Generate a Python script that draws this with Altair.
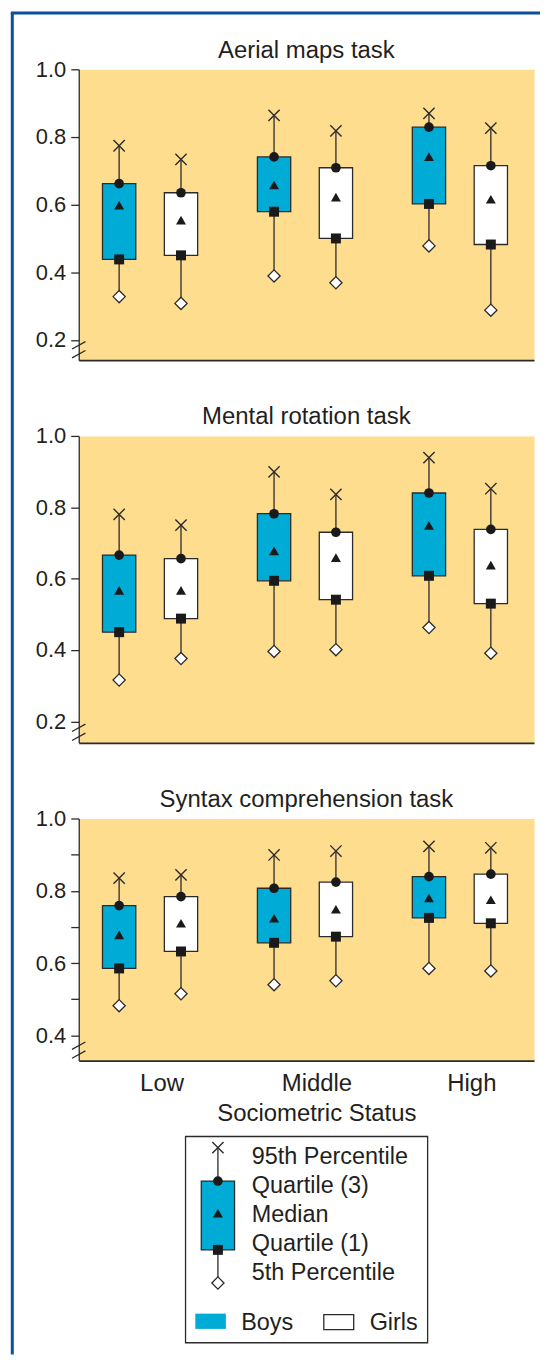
import altair as alt
import pandas as pd

FONT = "Liberation Sans"
INK = "#231f20"
LINE = "#2b2b2b"
BLUE = "#00abd5"
YELLOW = "#fedd8e"
FRAME = "#0b4f9e"

statuses = ["Low", "Middle", "High"]
sexes = ["Boys", "Girls"]
tasks = ["Aerial maps task", "Mental rotation task", "Syntax comprehension task"]

# order of each list: Low-Boys, Low-Girls, Middle-Boys, Middle-Girls, High-Boys, High-Girls
aerial_p95 = [0.774, 0.734, 0.864, 0.818, 0.870, 0.826]
aerial_q3 = [0.662, 0.635, 0.741, 0.709, 0.829, 0.715]
aerial_med = [0.598, 0.554, 0.658, 0.622, 0.742, 0.616]
aerial_q1 = [0.438, 0.450, 0.579, 0.500, 0.602, 0.482]
aerial_p5 = [0.328, 0.308, 0.389, 0.369, 0.478, 0.288]

mental_p95 = [0.780, 0.750, 0.899, 0.836, 0.939, 0.852]
mental_q3 = [0.666, 0.656, 0.782, 0.730, 0.840, 0.738]
mental_med = [0.567, 0.567, 0.678, 0.659, 0.749, 0.638]
mental_q1 = [0.450, 0.488, 0.594, 0.541, 0.608, 0.530]
mental_p5 = [0.316, 0.376, 0.396, 0.401, 0.463, 0.391]

syntax_p95 = [0.835, 0.844, 0.899, 0.910, 0.923, 0.919]
syntax_q3 = [0.759, 0.784, 0.807, 0.824, 0.839, 0.846]
syntax_med = [0.678, 0.710, 0.724, 0.749, 0.780, 0.775]
syntax_q1 = [0.585, 0.632, 0.656, 0.673, 0.725, 0.710]
syntax_p5 = [0.482, 0.515, 0.540, 0.551, 0.585, 0.578]

y_domains = [[0.14, 1.0], [0.14, 1.0], [0.33, 1.0]]
y_ticks = [
    [0.2, 0.3, 0.4, 0.5, 0.6, 0.7, 0.8, 0.9, 1.0],
    [0.2, 0.3, 0.4, 0.5, 0.6, 0.7, 0.8, 0.9, 1.0],
    [0.4, 0.5, 0.6, 0.7, 0.8, 0.9, 1.0],
]

key_labels = ["95th Percentile", "Quartile (3)", "Median", "Quartile (1)", "5th Percentile"]
key_glyph = {"p95": -0.33, "q3": 0.82, "med": 1.93, "q1": 3.19, "p5": 4.33}
swatch_labels = ["Boys", "Girls"]

# layout
PANEL_W = 457
PANEL_H = [292, 308, 243]
SPACING = 76
LEG_W, LEG_H = 243, 207

X_PATH = "M-1,-1L1,1M-1,1L1,-1"
BREAK_PATH = "M-1,0.55L1,-0.55"


def make_df(p5, q1, med, q3, p95):
    rows = []
    i = 0
    for st in statuses:
        for sx in sexes:
            rows.append(dict(status=st, sex=sx, p5=p5[i], q1=q1[i], med=med[i], q3=q3[i], p95=p95[i]))
            i += 1
    return pd.DataFrame(rows)


dfs = [
    make_df(aerial_p5, aerial_q1, aerial_med, aerial_q3, aerial_p95),
    make_df(mental_p5, mental_q1, mental_med, mental_q3, mental_p95),
    make_df(syntax_p5, syntax_q1, syntax_med, syntax_q3, syntax_p95),
]


def panel(task, df, h, dom, ticks, bottom):
    x_scale = alt.Scale(domain=statuses, paddingInner=0.2, paddingOuter=0.0695, align=0.435)
    off_scale = alt.Scale(domain=sexes, paddingInner=0.462, paddingOuter=0.2326)
    y_scale = alt.Scale(domain=dom, nice=False, zero=False)
    if bottom:
        x_axis = alt.Axis(
            title="Sociometric Status", labels=True, ticks=False, tickSize=0,
            labelOffset=12, labelPadding=11, labelFontSize=24, labelAngle=0,
            titleFontSize=24, titleFontWeight="normal", titleX=PANEL_W / 2 + 10,
            titleY=60, titleBaseline="alphabetic", titleAlign="center",
            domainWidth=1.7, grid=False,
        )
    else:
        x_axis = alt.Axis(title=None, labels=False, ticks=False, tickSize=0, domainWidth=1.7, grid=False)
    y_axis = alt.Axis(
        values=ticks,
        labelExpr="round(datum.value*10) % 2 == 0 ? format(datum.value, '.1f') : ''",
        tickSize=8, tickWidth=1.3, labelPadding=5, labelFontSize=22,
        grid=False, title=None, domainWidth=1.3,
    )
    base = alt.Chart(df).encode(
        x=alt.X("status:N", scale=x_scale, axis=x_axis, sort=statuses),
        xOffset=alt.XOffset("sex:N", scale=off_scale, sort=sexes),
    )
    whisk = base.mark_rule(color=LINE, strokeWidth=1.3).encode(
        y=alt.Y("p5:Q", scale=y_scale, axis=y_axis), y2="p95:Q"
    )
    box = base.mark_bar(stroke=LINE, strokeWidth=1.3, opacity=1).encode(
        y="q1:Q", y2="q3:Q",
        fill=alt.Fill("sex:N", scale=alt.Scale(domain=sexes, range=[BLUE, "#ffffff"]), legend=None),
    )
    m95 = base.mark_point(shape=X_PATH, size=128, filled=False, color=LINE, strokeWidth=1.4, opacity=1).encode(y="p95:Q")
    mq3 = base.mark_point(shape="circle", size=94, filled=True, color="#1a1a1a", opacity=1).encode(y="q3:Q")
    mmed = base.mark_point(shape="triangle-up", size=100, filled=True, color="#1a1a1a", opacity=1).encode(y="med:Q")
    mq1 = base.mark_point(shape="square", size=100, filled=True, color="#1a1a1a", opacity=1).encode(y="q1:Q")
    m5 = base.mark_point(shape="diamond", size=150, filled=True, fill="#ffffff", stroke=LINE, strokeWidth=1.3, opacity=1).encode(y="p5:Q")
    one = pd.DataFrame({"k": [0]})
    br1 = alt.Chart(one).mark_point(shape=BREAK_PATH, size=180, filled=False, color=LINE, strokeWidth=1.3, opacity=1).encode(
        x=alt.value(0), y=alt.value(h - 15))
    br2 = alt.Chart(one).mark_point(shape=BREAK_PATH, size=180, filled=False, color=LINE, strokeWidth=1.3, opacity=1).encode(
        x=alt.value(0), y=alt.value(h - 6))
    return alt.layer(whisk, box, m95, mq3, mmed, mq1, m5, br1, br2).properties(
        width=PANEL_W, height=h,
        title=alt.TitleParams(text=task, fontSize=24, font=FONT, fontWeight="normal", color=INK,
                              baseline="alphabetic", offset=0, dy=23.5, anchor="middle", frame="group"),
        view=alt.ViewBackground(fill=YELLOW, strokeOpacity=0),
    )


panels = [
    panel(tasks[i], dfs[i], PANEL_H[i], y_domains[i], y_ticks[i], i == 2) for i in range(3)
]

# ---------- key (legend) ----------
ky = alt.Scale(domain=[-0.72, 6.38], reverse=True, nice=False, zero=False)
kdf = pd.DataFrame([key_glyph])
one = pd.DataFrame({"k": [0]})
GX = 32.7

# blue page frame (left and top edges), positioned relative to the key panel
leg_x0 = (PANEL_W - LEG_W) / 2
leg_y0 = sum(PANEL_H) + 3 * SPACING
fx = -66.7 - leg_x0
fy = -56.5 - leg_y0
frame_left = alt.Chart(one).mark_rule(color=FRAME, strokeWidth=3).encode(
    x=alt.value(fx), y=alt.value(fy), y2=alt.value(1356 - 66 - leg_y0))
frame_top = alt.Chart(one).mark_rule(color=FRAME, strokeWidth=3).encode(
    x=alt.value(fx - 1.5), x2=alt.value(463 - leg_x0), y=alt.value(fy))

k_whisk = alt.Chart(kdf).mark_rule(color=LINE, strokeWidth=1.3).encode(
    x=alt.value(GX), y=alt.Y("p5:Q", scale=ky, axis=None), y2="p95:Q")
k_box = alt.Chart(kdf).mark_rect(fill=BLUE, stroke=LINE, strokeWidth=1.3).encode(
    x=alt.value(GX - 16.7), x2=alt.value(GX + 16.7), y=alt.Y("q1:Q", scale=ky, axis=None), y2="q3:Q")
k95 = alt.Chart(kdf).mark_point(shape=X_PATH, size=128, filled=False, color=LINE, strokeWidth=1.4, opacity=1).encode(
    x=alt.value(GX), y=alt.Y("p95:Q", scale=ky, axis=None))
kq3 = alt.Chart(kdf).mark_point(shape="circle", size=94, filled=True, color="#1a1a1a", opacity=1).encode(
    x=alt.value(GX), y=alt.Y("q3:Q", scale=ky, axis=None))
kmed = alt.Chart(kdf).mark_point(shape="triangle-up", size=100, filled=True, color="#1a1a1a", opacity=1).encode(
    x=alt.value(GX), y=alt.Y("med:Q", scale=ky, axis=None))
kq1 = alt.Chart(kdf).mark_point(shape="square", size=100, filled=True, color="#1a1a1a", opacity=1).encode(
    x=alt.value(GX), y=alt.Y("q1:Q", scale=ky, axis=None))
k5 = alt.Chart(kdf).mark_point(shape="diamond", size=150, filled=True, fill="#ffffff", stroke=LINE, strokeWidth=1.3, opacity=1).encode(
    x=alt.value(GX), y=alt.Y("p5:Q", scale=ky, axis=None))
ktext = alt.Chart(pd.DataFrame({"label": key_labels, "row": list(range(len(key_labels)))})).mark_text(
    align="left", baseline="middle", fontSize=23.5, font=FONT, color=INK).encode(
    x=alt.value(66.7), y=alt.Y("row:Q", scale=ky, axis=None), text="label:N")
sw_boys = alt.Chart(one).mark_rect(fill=BLUE).encode(
    x=alt.value(10), x2=alt.value(40.7), y=alt.value(178), y2=alt.value(193.3))
sw_girls = alt.Chart(one).mark_rect(fill="#ffffff", stroke=LINE, strokeWidth=1.3).encode(
    x=alt.value(139), x2=alt.value(169), y=alt.value(179), y2=alt.value(194))
t_boys = alt.Chart(pd.DataFrame({"label": [swatch_labels[0]]})).mark_text(
    align="left", baseline="middle", fontSize=23.5, font=FONT, color=INK).encode(
    x=alt.value(56), y=alt.value(187), text="label:N")
t_girls = alt.Chart(pd.DataFrame({"label": [swatch_labels[1]]})).mark_text(
    align="left", baseline="middle", fontSize=23.5, font=FONT, color=INK).encode(
    x=alt.value(185), y=alt.value(187), text="label:N")

key = alt.layer(frame_left, frame_top, k_whisk, k_box, k95, kq3, kmed, kq1, k5, ktext,
                sw_boys, sw_girls, t_boys, t_girls).properties(
    width=LEG_W, height=LEG_H,
    view=alt.ViewBackground(fill="#ffffff", stroke=LINE, strokeWidth=1.3, strokeOpacity=1),
)

chart = alt.vconcat(*panels, key, spacing=SPACING, bounds="flush", center=True).properties(
    padding=0
).configure_view(strokeOpacity=0).configure_axis(
    labelFont=FONT, titleFont=FONT, labelColor=INK, titleColor=INK,
    domainColor=LINE, tickColor=LINE,
).configure_title(font=FONT, color=INK)

chart.save("out.html", embed_options={"renderer": "svg", "actions": False})
